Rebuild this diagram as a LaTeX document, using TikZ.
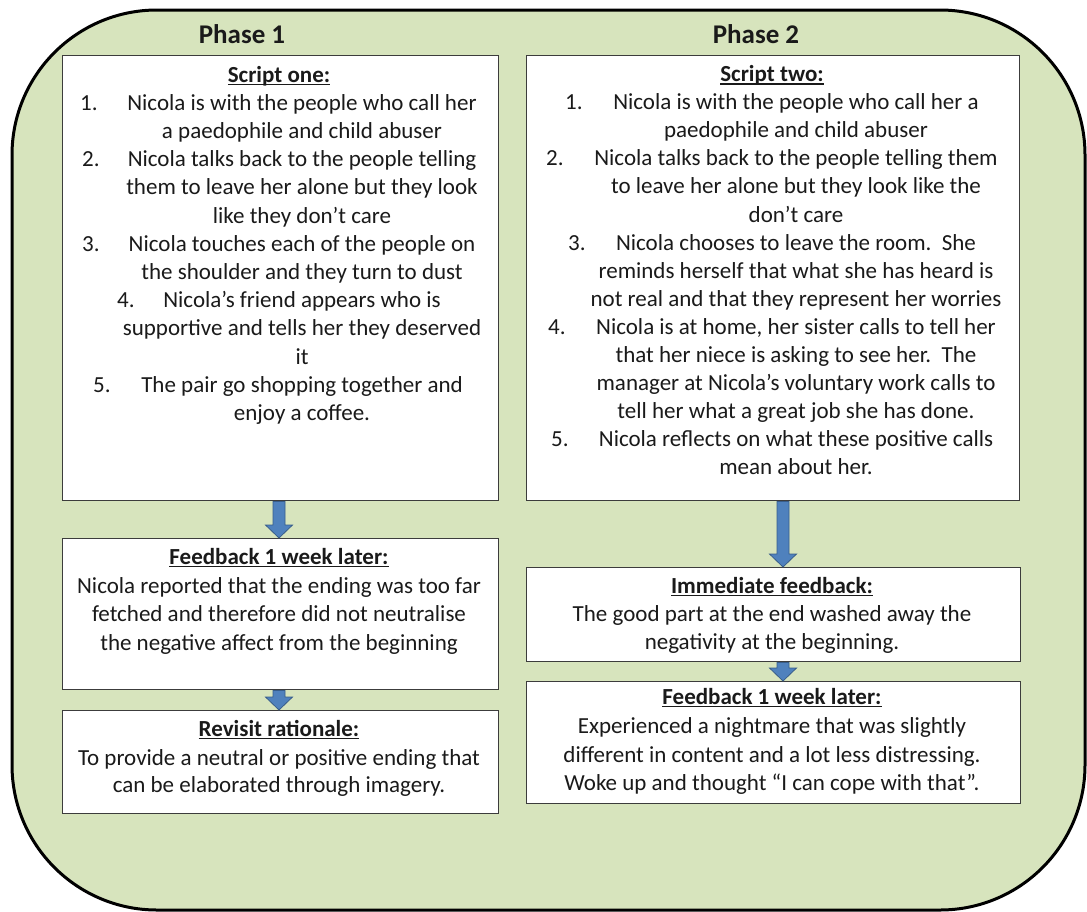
\documentclass[tikz,border=0pt]{standalone}
\usepackage{fontspec}
\setmainfont{Carlito}
\usetikzlibrary{calc}

\definecolor{panelgreen}{HTML}{D7E4BD}
\definecolor{arrowblue}{HTML}{4F81BD}
\definecolor{arrowedge}{HTML}{385D8A}
\definecolor{boxedge}{HTML}{3C3C3C}
\definecolor{ink}{HTML}{1A1A1A}

% bold underlined heading
\newcommand\ulhead[1]{\setbox0\hbox{\bfseries #1}\rlap{\rule[-3.2pt]{\wd0}{1.4pt}}\box0}

% block arrow from the bottom of one card to the top of the next, at x = #3
\newcommand\blockarrow[3]{%
  \draw[barrow] let \p1=(#1.south), \p2=(#2.north) in
    (#3pt-6pt,\y1) -- (#3pt+6pt,\y1) -- (#3pt+6pt,\y2+13pt) -- (#3pt+13.5pt,\y2+13pt)
    -- (#3pt,\y2) -- (#3pt-13.5pt,\y2+13pt) -- (#3pt-6pt,\y2+13pt) -- cycle;}

\tikzset{
  panel/.style={draw=black, line width=3pt, fill=panelgreen, rounded corners=145pt},
  card/.style={draw=boxedge, line width=1.4pt, fill=white, inner sep=0pt, anchor=north west},
  body/.style={font=\fontsize{23}{28}\selectfont, text=ink, inner sep=0pt, anchor=base},
  num/.style={body, anchor=base west},
  title/.style={font=\fontsize{27}{32}\selectfont\bfseries, text=ink, inner sep=0pt, anchor=base},
  barrow/.style={fill=arrowblue, draw=arrowedge, line width=0.8pt, line join=miter}
}

\begin{document}
\begin{tikzpicture}[x=1pt, y=-1pt]
\useasboundingbox (0,0) rectangle (1087,911);

% background panel
\path[panel] (12,10) rectangle (1085,910);

% phase titles
\node[title] (p1) at (242,43) {Phase 1};
\node[title] (p2) at (756,43) {Phase 2};

% cards
\node[card, minimum width=436pt, minimum height=445pt] (s1) at (62,55) {};
\node[card, minimum width=493pt, minimum height=445pt] (s2) at (526,55) {};
\node[card, minimum width=436pt, minimum height=151pt] (f1) at (62,538) {};
\node[card, minimum width=436pt, minimum height=103pt] (r1) at (62,710) {};
\node[card, minimum width=494pt, minimum height=94pt]  (i2) at (526,567) {};
\node[card, minimum width=494pt, minimum height=122pt] (f2) at (526,681) {};

% arrows
\blockarrow{s1}{f1}{279}
\blockarrow{f1}{r1}{279}
\blockarrow{s2}{i2}{783}
\blockarrow{i2}{f2}{783}

% script one
\node[body] (a0) at (279,82) {\ulhead{Script one:}};
\node[num] (an1) at (80,110.2) {1.};
\node[body] (a1) at (302,110.2) {Nicola is with the people who call her};
\node[body] (a2) at (302,138.4) {a paedophile and child abuser};
\node[num] (an2) at (82,166.6) {2.};
\node[body] (a3) at (302,166.6) {Nicola talks back to the people telling};
\node[body] (a4) at (302,194.8) {them to leave her alone but they look};
\node[body] (a5) at (302,223) {like they don’t care};
\node[num] (an3) at (82,251.2) {3.};
\node[body] (a6) at (302,251.2) {Nicola touches each of the people on};
\node[body] (a7) at (302,279.4) {the shoulder and they turn to dust};
\node[num] (an4) at (117,307.6) {4.};
\node[body] (a8) at (302,307.6) {Nicola’s friend appears who is};
\node[body] (a9) at (302,335.8) {supportive and tells her they deserved};
\node[body] (a10) at (302,364) {it};
\node[num] (an5) at (93,392.2) {5.};
\node[body] (a11) at (302,392.2) {The pair go shopping together and};
\node[body] (a12) at (302,420.4) {enjoy a coffee.};

% script two
\node[body] (b0) at (772,81.5) {\ulhead{Script two:}};
\node[num] (bn1) at (565,109.6) {1.};
\node[body] (b1) at (796,109.6) {Nicola is with the people who call her a};
\node[body] (b2) at (796,137.7) {paedophile and child abuser};
\node[num] (bn2) at (546,165.8) {2.};
\node[body] (b3) at (796,165.8) {Nicola talks back to the people telling them};
\node[body] (b4) at (796,193.9) {to leave her alone but they look like the};
\node[body] (b5) at (796,222) {don’t care};
\node[num] (bn3) at (568,250.1) {3.};
\node[body] (b6) at (796,250.1) {Nicola chooses to leave the room.\ \ She};
\node[body] (b7) at (796,278.2) {reminds herself that what she has heard is};
\node[body] (b8) at (796,306.3) {not real and that they represent her worries};
\node[num] (bn4) at (548,334.4) {4.};
\node[body] (b9) at (796,334.4) {Nicola is at home, her sister calls to tell her};
\node[body] (b10) at (796,362.5) {that her niece is asking to see her.\ \ The};
\node[body] (b11) at (796,390.6) {manager at Nicola’s voluntary work calls to};
\node[body] (b12) at (796,418.7) {tell her what a great job she has done.};
\node[num] (bn5) at (551,446.8) {5.};
\node[body] (b13) at (796,446.8) {Nicola reflects on what these positive calls};
\node[body] (b14) at (796,474.9) {mean about her.};

% phase 1 feedback and rationale
\node[body] (c0) at (279,564) {\ulhead{Feedback 1 week later:}};
\node[body] (c1) at (279,593) {Nicola reported that the ending was too far};
\node[body] (c2) at (279,621) {fetched and therefore did not neutralise};
\node[body] (c3) at (279,650) {the negative affect from the beginning};
\node[body] (d0) at (279,736) {\ulhead{Revisit rationale:}};
\node[body] (d1) at (279,765) {To provide a neutral or positive ending that};
\node[body] (d2) at (279,792) {can be elaborated through imagery.};

% phase 2 feedback
\node[body] (e0) at (772,593) {\ulhead{Immediate feedback:}};
\node[body] (e1) at (772,621) {The good part at the end washed away the};
\node[body] (e2) at (772,649) {negativity at the beginning.};
\node[body] (g0) at (772,704) {\ulhead{Feedback 1 week later:}};
\node[body] (g1) at (772,733) {Experienced a nightmare that was slightly};
\node[body] (g2) at (772,762) {different in content and a lot less distressing.};
\node[body] (g3) at (772,790) {Woke up and thought “I can cope with that”.};
\end{tikzpicture}
\end{document}
